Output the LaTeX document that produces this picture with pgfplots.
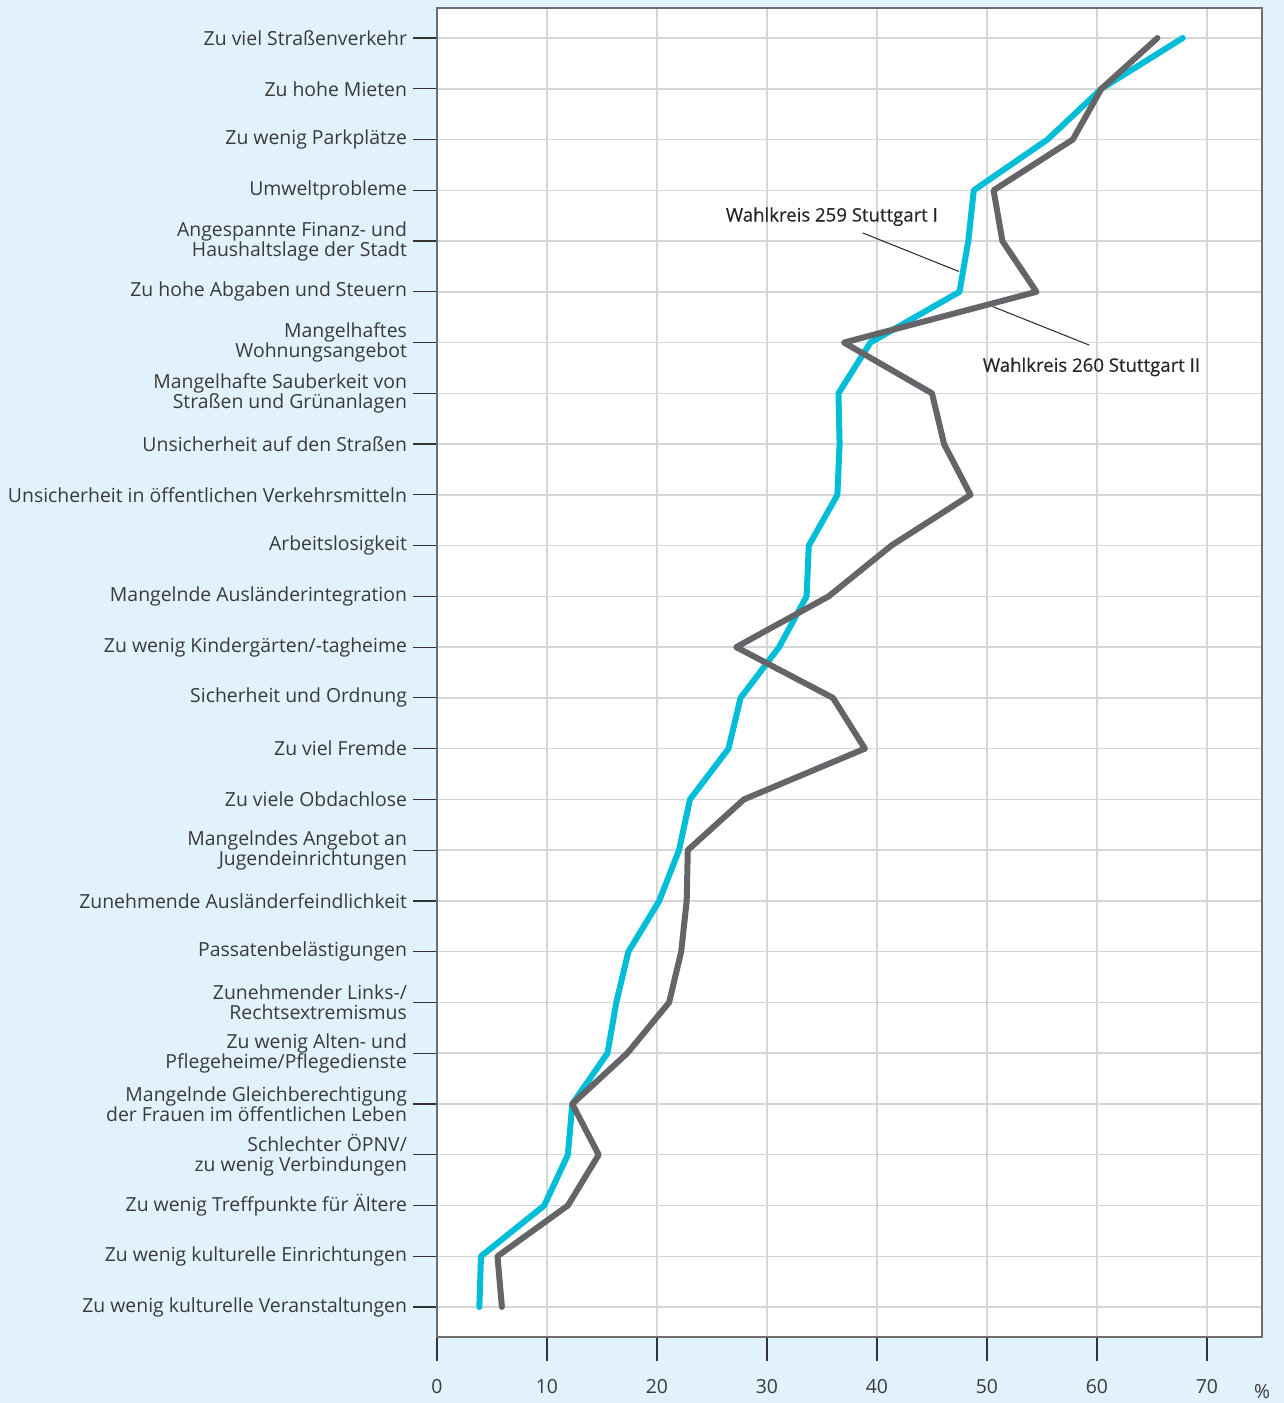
\documentclass[border=0pt]{standalone}
\usepackage{fontspec}
\setmainfont{Open Sans}
\newfontfamily\annot[FakeBold=0.4]{Open Sans}
\usepackage{pgfplots}
\pgfplotsset{compat=1.18}
\definecolor{bgblue}{HTML}{E1F2FC}
\definecolor{cyanline}{HTML}{00BED8}
\definecolor{grayline}{HTML}{646469}
\definecolor{gridcol}{HTML}{D6D6D6}
\definecolor{axiscol}{HTML}{6E6E6E}
\definecolor{txt}{HTML}{3A3A3A}
\begin{document}
\begin{tikzpicture}
\path[use as bounding box, fill=bgblue] (-218.5pt,-33pt) rectangle (423.5pt,668.5pt);
\begin{axis}[
  at={(0pt,0pt)}, anchor=south west,
  scale only axis, width=412.5pt, height=664.5pt,
  xmin=0, xmax=75, ymin=-0.591, ymax=25.591, y dir=reverse,
  axis background/.style={fill=white},
  axis line style={draw=axiscol, line width=1pt},
  xtick={0,10,...,70}, ytick={0,...,25},
  grid=major, major grid style={draw=gridcol, line width=0.75pt},
  tick align=outside, tick pos=left,
  major tick length=12pt,
  tick style={draw=black!80, line width=0.6pt},
  /pgf/number format/assume math mode=true,
  ticklabel style={font=\fontsize{9.7}{10}\selectfont, text=txt},
  yticklabel style={align=right, xshift=0.5pt},
  xticklabel style={yshift=-5.5pt},
  yticklabels={
    Zu viel Straßenverkehr,
    Zu hohe Mieten,
    Zu wenig Parkplätze,
    Umweltprobleme,
    {Angespannte Finanz- und\\Haushaltslage der Stadt},
    Zu hohe Abgaben und Steuern,
    {Mangelhaftes\\Wohnungsangebot},
    {Mangelhafte Sauberkeit von\\Straßen und Grünanlagen},
    Unsicherheit auf den Straßen,
    Unsicherheit in öffentlichen Verkehrsmitteln,
    Arbeitslosigkeit,
    Mangelnde Ausländerintegration,
    Zu wenig Kindergärten/-tagheime,
    Sicherheit und Ordnung,
    Zu viel Fremde,
    Zu viele Obdachlose,
    {Mangelndes Angebot an\\Jugendeinrichtungen},
    Zunehmende Ausländerfeindlichkeit,
    Passatenbelästigungen,
    {Zunehmender Links-/\\Rechtsextremismus},
    {Zu wenig Alten- und\\Pflegeheime/Pflegedienste},
    {Mangelnde Gleichberechtigung\\der Frauen im öffentlichen Leben},
    {Schlechter ÖPNV/\\zu wenig Verbindungen},
    Zu wenig Treffpunkte für Ältere,
    Zu wenig kulturelle Einrichtungen,
    Zu wenig kulturelle Veranstaltungen},
]
\addplot[cyanline, line width=3pt, line join=round, line cap=round] table[x=v, y=i] {
i v
0 67.8
1 60.4
2 55.5
3 48.8
4 48.3
5 47.5
6 39.4
7 36.5
8 36.6
9 36.4
10 33.8
11 33.6
12 31.1
13 27.6
14 26.5
15 23.0
16 22.0
17 20.2
18 17.4
19 16.3
20 15.5
21 12.3
22 11.9
23 9.75
24 4.0
25 3.85
};
\addplot[grayline, line width=3pt, line join=round, line cap=round] table[x=v, y=i] {
i v
0 65.5
1 60.4
2 57.8
3 50.6
4 51.4
5 54.5
6 37.0
7 45.0
8 46.1
9 48.5
10 41.3
11 35.6
12 27.2
13 36.0
14 38.9
15 27.9
16 22.8
17 22.7
18 22.2
19 21.1
20 17.3
21 12.3
22 14.7
23 11.9
24 5.5
25 5.9
};
\node[font=\annot\fontsize{9.3}{10}\selectfont, text=black!85] at (axis cs:35.9,3.52) {Wahlkreis 259 Stuttgart I};
\draw[black!85, line width=0.5pt] (axis cs:38.7,3.84) -- (axis cs:47.45,4.60);
\draw[black!85, line width=0.5pt] (axis cs:50.5,5.29) -- (axis cs:59.3,6.05);
\node[font=\annot\fontsize{9.3}{10}\selectfont, text=black!85] at (axis cs:59.5,6.48) {Wahlkreis 260 Stuttgart II};
\end{axis}
\node[font=\fontsize{9.7}{10}\selectfont, text=txt] at (412.5pt,-27.5pt) {\%};
\end{tikzpicture}
\end{document}
